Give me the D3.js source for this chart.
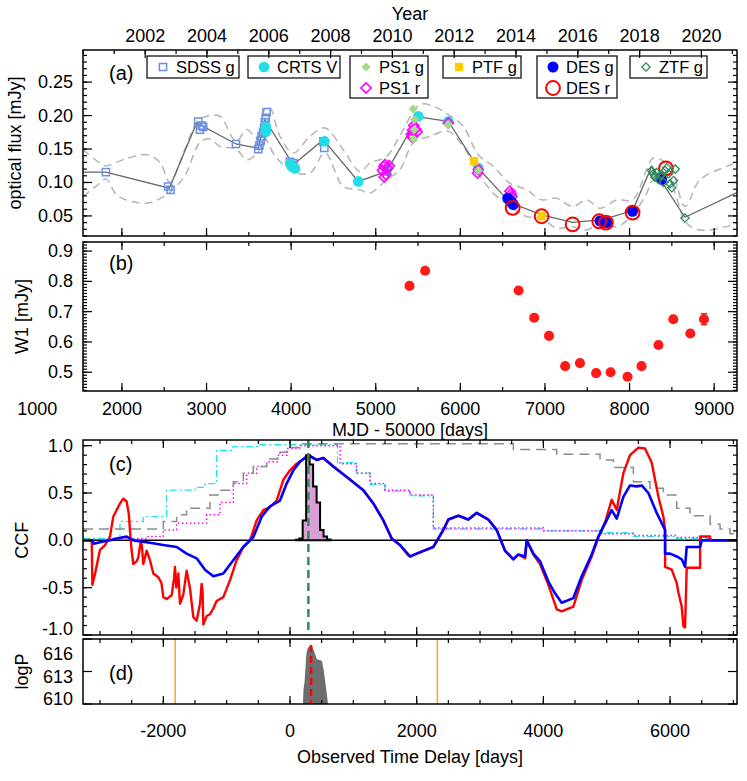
<!DOCTYPE html>
<html><head><meta charset="utf-8">
<script src="https://cdn.jsdelivr.net/npm/d3@7"></script>
<style>
body{margin:0;background:#fff}
text{font-family:"Liberation Sans",Arial,Helvetica,sans-serif;fill:#000}
</style>
</head><body>
<svg id="chart" width="747" height="781"></svg>
<script>
// ---------------- DATA ----------------
// Panel (a): optical light curve, [MJD-50000, flux mJy]
const sdssG = [[1811,0.1155],[2547,0.094],[2575,0.089],[2902,0.191],[2922,0.179],[2942,0.185],[2961,0.183],[3348,0.1575],
  [3611,0.150],[3625,0.155],[3640,0.1625],[3652,0.169],[3668,0.174],[3680,0.1815],[3690,0.19],[3700,0.1965],[3710,0.205],
  [3986,0.131],[4006,0.1265],[4025,0.129],[4380,0.1615],[4392,0.1515]];
const crtsV = [[3702,0.183],[3700,0.176],[3990,0.128],[4010,0.124],[4045,0.121],[4392,0.1615],[4794,0.1015],[5129,0.1175],
  [5503,0.199],[5858,0.191],[6212,0.1215],[6600,0.078]];
const ps1G = [[5443,0.21],[5460,0.194],[5455,0.179],[5448,0.165],[5858,0.1865],[6212,0.118]];
const ps1R = [[5080,0.118],[5095,0.124],[5110,0.127],[5120,0.112],[5100,0.108],[5140,0.121],[5160,0.125],
  [5420,0.172],[5435,0.178],[5450,0.185],[5470,0.180],[5490,0.176],[5430,0.168],[5858,0.189],[6212,0.119],[6205,0.114],
  [6586,0.087],[6600,0.083],[6610,0.079]];
const ptfG = [[6161,0.132],[6961,0.0495]];
const desG = [[6560,0.0765],[6590,0.072],[6615,0.069],[6625,0.067],[7650,0.0425],[7700,0.041],[7730,0.04],[8036,0.057],[8379,0.1045]];
const desR = [[6618,0.062],[6961,0.0495],[7327,0.0375],[7642,0.042],[7721,0.04],[8036,0.055],[8430,0.121]];
const ztfG = [[8260,0.118],[8280,0.113],[8300,0.108],[8320,0.115],[8340,0.105],[8360,0.11],[8380,0.112],[8400,0.1],
  [8420,0.118],[8440,0.122],[8460,0.113],[8480,0.098],[8500,0.092],[8520,0.103],[8540,0.12],[8655,0.047]];
const binnedLC = [[1540,0.1155],[1811,0.1155],[2560,0.0915],[2883,0.189],[3348,0.1575],[3611,0.151],[3690,0.194],[4025,0.1265],
  [4380,0.164],[4794,0.1015],[5129,0.1165],[5503,0.198],[5858,0.1915],[6212,0.1215],[6586,0.07],[6961,0.0515],[7327,0.0405],
  [7685,0.0445],[8037,0.058],[8261,0.124],[8655,0.048],[9270,0.085]];
const envUpper = [[1540,0.149],[1740,0.129],[1811,0.125],[2035,0.135],[2292,0.1415],[2449,0.13],[2567,0.10],[2745,0.15],[2887,0.19],
  [3001,0.199],[3158,0.199],[3348,0.1615],[3474,0.179],[3608,0.165],[3690,0.21],[3749,0.2115],[3868,0.169],[4025,0.144],[4222,0.169],
  [4400,0.1815],[4616,0.149],[4813,0.1165],[4931,0.129],[5129,0.139],[5286,0.17],[5522,0.2165],[5680,0.214],[5857,0.2015],[6034,0.184],
  [6212,0.1415],[6389,0.124],[6586,0.099],[6784,0.089],[6961,0.074],[7138,0.0765],[7327,0.064],[7493,0.074],[7650,0.0615],[7847,0.074],
  [8037,0.074],[8202,0.119],[8280,0.1365],[8478,0.124],[8655,0.064],[8832,0.104],[9148,0.124],[9270,0.13]];
const envLower = [[1540,0.079],[1700,0.095],[1811,0.105],[1950,0.08],[2292,0.069],[2508,0.08],[2567,0.085],[2745,0.11],[2922,0.16],
  [3040,0.165],[3158,0.154],[3348,0.15],[3474,0.134],[3608,0.145],[3690,0.165],[3808,0.14],[4025,0.116],[4222,0.114],[4400,0.144],
  [4616,0.094],[4813,0.089],[4931,0.084],[5129,0.104],[5286,0.119],[5443,0.159],[5641,0.169],[5857,0.1765],[6034,0.154],[6212,0.114],
  [6389,0.084],[6586,0.064],[6784,0.049],[6961,0.0465],[7138,0.0315],[7327,0.034],[7493,0.029],[7650,0.039],[7847,0.034],[8037,0.0515],
  [8202,0.084],[8280,0.104],[8478,0.099],[8576,0.069],[8655,0.0415],[8832,0.029],[9148,0.034],[9270,0.04]];

// Panel (b): WISE W1, [MJD-50000, flux, error]
const w1 = [[5399,0.785,0.008],[5584,0.835,0.008],[6688,0.77,0.008],[6873,0.68,0.008],[7048,0.62,0.008],[7239,0.52,0.008],
  [7414,0.53,0.008],[7605,0.497,0.008],[7776,0.50,0.008],[7976,0.485,0.008],[8142,0.52,0.008],[8342,0.59,0.008],
  [8517,0.675,0.01],[8718,0.628,0.01],[8880,0.675,0.018]];

// Panel (c): CCF, [lag days, r]
const ccfRed = [[-3268,0],[-3130,0],[-3120,-0.47],[-3080,-0.36],[-3000,-0.10],[-2920,-0.05],[-2842,0.04],[-2790,0.25],[-2737,0.32],
  [-2684,0.39],[-2632,0.44],[-2579,0.41],[-2545,0.28],[-2526,0.10],[-2500,-0.11],[-2474,-0.25],[-2420,-0.22],[-2395,-0.18],[-2358,-0.02],
  [-2340,-0.05],[-2316,-0.25],[-2263,-0.11],[-2211,-0.21],[-2158,-0.35],[-2079,-0.39],[-2030,-0.45],[-2000,-0.60],[-1947,-0.62],
  [-1868,-0.58],[-1830,-0.40],[-1816,-0.28],[-1795,-0.50],[-1763,-0.35],[-1737,-0.67],[-1684,-0.57],[-1632,-0.32],[-1580,-0.50],
  [-1526,-0.81],[-1474,-0.85],[-1421,-0.67],[-1395,-0.46],[-1380,-0.55],[-1368,-0.89],[-1316,-0.80],[-1263,-0.78],[-1211,-0.72],
  [-1158,-0.64],[-1053,-0.60],[-947,-0.42],[-842,-0.21],[-737,-0.07],[-632,0.0],[-526,0.21],[-421,0.32],[-316,0.35],[-211,0.42],
  [-105,0.64],[0,0.74],[105,0.81],[211,0.86],[290,0.90],[421,0.85],[526,0.87],[684,0.78],[895,0.67],[1158,0.53],[1316,0.39],
  [1474,0.21],[1605,0.02],[1737,-0.05],[1868,-0.16],[1895,-0.17],[2000,-0.14],[2263,-0.07],[2421,0.11],[2500,0.22],[2658,0.26],
  [2816,0.22],[2947,0.29],[3131,0.22],[3263,0.11],[3395,-0.11],[3526,-0.20],[3605,-0.15],[3711,-0.19],[3737,0.0],[3842,-0.15],
  [3947,-0.25],[4079,-0.47],[4211,-0.73],[4289,-0.75],[4474,-0.70],[4605,-0.42],[4763,-0.17],[4868,0.03],[4974,0.19],[5079,0.43],
  [5158,0.32],[5263,0.71],[5368,0.90],[5500,0.98],[5605,0.97],[5711,0.82],[5816,0.46],[5895,0.25],[5921,0.11],[5922,-0.28],
  [6026,-0.31],[6105,-0.45],[6132,-0.55],[6184,-0.70],[6211,-0.91],[6237,-0.92],[6263,-0.29],[6474,-0.29],[6475,0.04],[6632,0.04],
  [6640,0.0],[7057,0.0]];
const ccfBlue = [[-3268,0],[-3120,0],[-3100,-0.035],[-3000,-0.02],[-2842,0.0],[-2737,0.02],[-2579,0.04],[-2526,0.02],[-2474,0.0],
  [-2263,-0.02],[-2000,-0.05],[-1789,-0.07],[-1632,-0.14],[-1474,-0.19],[-1342,-0.31],[-1211,-0.38],[-1053,-0.35],[-895,-0.21],
  [-737,-0.07],[-579,0.035],[-447,0.25],[-316,0.36],[-158,0.42],[-53,0.60],[53,0.74],[158,0.83],[290,0.90],[421,0.85],[526,0.87],
  [684,0.78],[895,0.67],[1158,0.53],[1316,0.39],[1474,0.21],[1605,0.02],[1737,-0.05],[1895,-0.17],[2000,-0.14],[2263,-0.07],
  [2421,0.11],[2500,0.22],[2658,0.26],[2816,0.22],[2947,0.29],[3131,0.22],[3263,0.11],[3395,-0.11],[3526,-0.20],[3605,-0.15],
  [3711,-0.17],[3737,0.0],[3842,-0.14],[3947,-0.22],[4079,-0.435],[4184,-0.56],[4289,-0.66],[4474,-0.61],[4605,-0.38],[4763,-0.15],
  [4868,0.04],[4974,0.18],[5079,0.32],[5158,0.23],[5263,0.46],[5368,0.58],[5474,0.57],[5553,0.58],[5658,0.50],[5789,0.29],
  [5921,0.11],[5922,-0.14],[6000,-0.14],[6105,-0.17],[6184,-0.20],[6237,-0.28],[6263,-0.07],[6474,-0.07],[6500,0.0],[7057,0.0]];
const overlapGray = [[-3268,0.12],[-2000,0.20],[-1789,0.27],[-1632,0.34],[-1263,0.48],[-1105,0.53],[-895,0.62],[-737,0.71],[-579,0.78],
  [-368,0.86],[-158,0.93],[0,0.98],[158,1.02],[3526,0.96],[4211,0.91],[4895,0.85],[5105,0.77],[5421,0.62],[5684,0.55],[5895,0.48],
  [6105,0.34],[6316,0.26],[6632,0.17],[6790,0.12],[6947,0.07],[7057,0.07]];
const overlapCyan = [[-3268,0.02],[-2684,0.20],[-2316,0.25],[-1947,0.53],[-1500,0.56],[-1342,0.60],[-1158,0.95],[-900,0.99],[-500,1.01],
  [750,0.82],[1050,0.71],[1263,0.59],[1500,0.52],[1895,0.47],[2263,0.12],[4000,0.10],[4895,0.08],[5421,0.04],[6100,0.02],[6600,0.0],[7057,0.0]];
const overlapMagenta = [[-3268,0.0],[-2684,0.02],[-2263,0.04],[-2000,0.11],[-1789,0.18],[-1316,0.27],[-1105,0.40],[-895,0.60],[-684,0.71],
  [-526,0.78],[-368,0.83],[-200,0.90],[-50,0.97],[150,1.0],[790,0.81],[1050,0.71],[1263,0.60],[1500,0.53],[1895,0.48],[2263,0.13],
  [4000,0.10],[4895,0.07],[5421,0.05],[6100,0.03],[6600,0.0],[7057,0.0]];
const histEdges = [90,145,200,255,310,365,420,475,530,585,640];
const histHeights = [0.005,0.02,0.21,0.90,0.80,0.57,0.40,0.11,0.04,0.01];
const ccfPeakLag = 290;

// Panel (d): JAVELIN posterior envelope, [lag, logP]
const posterior = [[205,610],[211,611],[232,612.2],[266,614.9],[300,615.3],[333,615.45],[379,614.9],[433,614.1],[499,614.0],
  [530,613.2],[553,612.2],[580,611],[600,610]];
const javelinLag = 333;
const lagLimits = [-1812, 2327];

// Axis ticks / labels
const yearLabels = [2002,2004,2006,2008,2010,2012,2014,2016,2018,2020];
const mjdLabels = [1000,2000,3000,4000,5000,6000,7000,8000,9000];
const fluxLabels = [0.05,0.10,0.15,0.20,0.25];
const w1Labels = [0.5,0.6,0.7,0.8,0.9];
const ccfLabels = [-1.0,-0.5,0.0,0.5,1.0];
const logPLabels = [610,613,616];
const lagLabels = [-2000,0,2000,4000,6000];

// ---------------- LAYOUT ----------------
const L = 83, R = 737;
const A = {top:50, bottom:236}, B = {top:242, bottom:391}, C = {top:440, bottom:635}, D = {top:639, bottom:704};
const svg = d3.select('#chart');
const xM = d3.scaleLinear().domain([1540, 9270]).range([L, R]);
const xL = d3.scaleLinear().domain([-3268, 7057]).range([L, R]);
const yA = d3.scaleLinear().domain([0.02, 0.298]).range([A.bottom, A.top]);
const yB = d3.scaleLinear().domain([0.438, 0.930]).range([B.bottom, B.top]);
const yC = d3.scaleLinear().domain([-1.0, 1.06]).range([C.bottom, C.top]);
const yD = d3.scaleLinear().domain([610, 616]).range([D.bottom, D.top]);
const yearToMjd = y => 51544.5 + (y - 2000) * 365.25 - 50000;

const defs = svg.append('defs');
[['clipA',A],['clipB',B],['clipC',C],['clipD',D]].forEach(([id,p])=>{
  defs.append('clipPath').attr('id',id).append('rect').attr('x',L).attr('y',p.top).attr('width',R-L).attr('height',p.bottom-p.top);
});

const FS = 18;
function tickLine(g,x1,y1,x2,y2){ g.append('line').attr('x1',x1).attr('y1',y1).attr('x2',x2).attr('y2',y2).attr('stroke','#000').attr('stroke-width',1.2); }
function xTicks(g, sc, vals, p, len, top=true, bottom=true){
  vals.forEach(v=>{ const x=sc(v); if(x<L-0.5||x>R+0.5) return;
    if(bottom) tickLine(g,x,p.bottom,x,p.bottom-len);
    if(top) tickLine(g,x,p.top,x,p.top+len); });
}
function yTicks(g, sc, vals, len){
  vals.forEach(v=>{ const y=sc(v); const r=sc.range(); if(y>r[0]+0.5||y<r[1]-0.5) return;
    tickLine(g,L,y,L+len,y); tickLine(g,R,y,R-len,y); });
}
function frame(p){ svg.append('rect').attr('x',L).attr('y',p.top).attr('width',R-L).attr('height',p.bottom-p.top)
  .attr('fill','none').attr('stroke','#000').attr('stroke-width',1.5); }
const rng = (a,b,s)=>d3.range(Math.round(a/s), Math.round(b/s)+1).map(i=>+(i*s).toFixed(6));

// ---------------- PANEL A ----------------
const gA = svg.append('g');
const cA = gA.append('g').attr('clip-path','url(#clipA)');
const envLine = d3.line().x(d=>xM(d[0])).y(d=>yA(d[1])).curve(d3.curveCatmullRom.alpha(0.5));
[envUpper, envLower].forEach(arr=>{
  cA.append('path').attr('d',envLine(arr)).attr('fill','none').attr('stroke','#b4b4b4').attr('stroke-width',1.5).attr('stroke-dasharray','8,5');
});
cA.append('path').attr('d',d3.line().x(d=>xM(d[0])).y(d=>yA(d[1]))(binnedLC)).attr('fill','none').attr('stroke','#666').attr('stroke-width',1.3);

function sym(type,size){ return d3.symbol().type(type).size(size)(); }
function markers(g,data,sc_x,sc_y,o){
  g.selectAll(null).data(data).enter().append('path')
   .attr('d',sym(o.type,o.size))
   .attr('transform',d=>`translate(${sc_x(d[0])},${sc_y(d[1])})${o.rot?' rotate(45)':''}`)
   .attr('fill',o.fill||'none').attr('stroke',o.stroke||'none').attr('stroke-width',o.sw||0);
}
const stSDSS={type:d3.symbolSquare,size:52,stroke:'#6a8fe6',sw:1.5};
const stCRTS={type:d3.symbolCircle,size:90,fill:'#22dde6'};
const stPS1g={type:d3.symbolSquare,size:42,fill:'#a2d98a',rot:true};
const stPS1r={type:d3.symbolSquare,size:52,stroke:'#ff00ff',sw:1.6,rot:true};
const stPTF={type:d3.symbolSquare,size:70,fill:'#ffcc00'};
const stDESg={type:d3.symbolCircle,size:95,fill:'#0000ff'};
const stDESr={type:d3.symbolCircle,size:150,stroke:'#ff0000',sw:2};
const stZTF={type:d3.symbolSquare,size:34,stroke:'#2e8b57',sw:1.3,rot:true};
markers(cA,sdssG,xM,yA,stSDSS);
markers(cA,crtsV,xM,yA,stCRTS);
markers(cA,ps1R,xM,yA,stPS1r);
markers(cA,ps1G,xM,yA,stPS1g);
markers(cA,ptfG,xM,yA,stPTF);
markers(cA,desG,xM,yA,stDESg);
markers(cA,desR,xM,yA,stDESr);
markers(cA,ztfG,xM,yA,stZTF);

// legend
const legendItems = [
  {x:147,w:92,rows:[['SDSS g',stSDSS]]},
  {x:248,w:92,rows:[['CRTS V',stCRTS]]},
  {x:350,w:78,rows:[['PS1 g',stPS1g],['PS1 r',stPS1r]]},
  {x:443,w:78,rows:[['PTF g',stPTF]]},
  {x:537,w:80,rows:[['DES g',stDESg],['DES r',stDESr]]},
  {x:630,w:77,rows:[['ZTF g',stZTF]]}
];
legendItems.forEach(it=>{
  const h = it.rows.length===1 ? 22 : 42;
  gA.append('rect').attr('x',it.x).attr('y',56).attr('width',it.w).attr('height',h).attr('fill','#fff').attr('stroke','#000').attr('stroke-width',1.2);
  it.rows.forEach((r,i)=>{
    const cy = 67 + i*21;
    const st=r[1];
    gA.append('path').attr('d',sym(st.type,st.size)).attr('transform',`translate(${it.x+16},${cy})${st.rot?' rotate(45)':''}`)
      .attr('fill',st.fill||'none').attr('stroke',st.stroke||'none').attr('stroke-width',st.sw||0);
    gA.append('text').attr('x',it.x+29).attr('y',cy+6).attr('font-size',16.5).text(r[0]);
  });
});
gA.append('text').attr('x',109).attr('y',80).attr('font-size',20).text('(a)');

frame(A);
xTicks(gA,xM,rng(1500,9500,500),{top:A.bottom,bottom:A.bottom},4,false,true);
xTicks(gA,xM,rng(2000,9000,1000),{top:A.bottom,bottom:A.bottom},8,false,true);
xTicks(gA,xM,d3.range(2000,2022,1).map(yearToMjd),{top:A.top,bottom:A.top},4,true,false);
xTicks(gA,xM,yearLabels.map(yearToMjd),{top:A.top,bottom:A.top},8,true,false);
yTicks(gA,yA,rng(0.02,0.29,0.01),4);
yTicks(gA,yA,fluxLabels,9);
yearLabels.forEach(y=>svg.append('text').attr('x',xM(yearToMjd(y))).attr('y',42).attr('text-anchor','middle').attr('font-size',FS).text(y));
svg.append('text').attr('x',410).attr('y',20).attr('text-anchor','middle').attr('font-size',FS).text('Year');
fluxLabels.forEach(v=>svg.append('text').attr('x',73).attr('y',yA(v)+6).attr('text-anchor','end').attr('font-size',FS).text(v.toFixed(2)));
svg.append('text').attr('transform',`translate(21,${(A.top+A.bottom)/2}) rotate(-90)`).attr('text-anchor','middle').attr('font-size',FS).text('optical flux [mJy]');

// ---------------- PANEL B ----------------
const gB = svg.append('g');
const cB = gB.append('g').attr('clip-path','url(#clipB)');
w1.forEach(d=>{
  cB.append('line').attr('x1',xM(d[0])).attr('x2',xM(d[0])).attr('y1',yB(d[1]-d[2])).attr('y2',yB(d[1]+d[2])).attr('stroke','#ff1a1a').attr('stroke-width',2);
  cB.append('line').attr('x1',xM(d[0])-3).attr('x2',xM(d[0])+3).attr('y1',yB(d[1]-d[2])).attr('y2',yB(d[1]-d[2])).attr('stroke','#ff1a1a').attr('stroke-width',1.5);
  cB.append('line').attr('x1',xM(d[0])-3).attr('x2',xM(d[0])+3).attr('y1',yB(d[1]+d[2])).attr('y2',yB(d[1]+d[2])).attr('stroke','#ff1a1a').attr('stroke-width',1.5);
});
markers(cB,w1,xM,yB,{type:d3.symbolCircle,size:80,fill:'#ff1a1a'});
gB.append('text').attr('x',109).attr('y',270).attr('font-size',20).text('(b)');
frame(B);
xTicks(gB,xM,rng(1500,9500,500),B,4);
xTicks(gB,xM,rng(2000,9000,1000),B,8);
yTicks(gB,yB,rng(0.44,0.93,0.01),4);
yTicks(gB,yB,w1Labels,9);
mjdLabels.forEach(v=>svg.append('text').attr('x',xM(v)).attr('y',415).attr('text-anchor','middle').attr('font-size',FS).text(v));
svg.append('text').attr('x',410).attr('y',436).attr('text-anchor','middle').attr('font-size',FS).text('MJD - 50000 [days]');
w1Labels.forEach(v=>svg.append('text').attr('x',73).attr('y',yB(v)+6).attr('text-anchor','end').attr('font-size',FS).text(v.toFixed(1)));
svg.append('text').attr('transform',`translate(28,${(B.top+B.bottom)/2}) rotate(-90)`).attr('text-anchor','middle').attr('font-size',FS).text('W1 [mJy]');

// ---------------- PANEL C ----------------
const gC = svg.append('g');
const cC = gC.append('g').attr('clip-path','url(#clipC)');
const stepLine = d3.line().x(d=>xL(d[0])).y(d=>yC(d[1])).curve(d3.curveStepAfter);
cC.append('path').attr('d',stepLine(overlapCyan)).attr('fill','none').attr('stroke','#1ee6ee').attr('stroke-width',1.3).attr('stroke-dasharray','7,3,2,3');
cC.append('path').attr('d',stepLine(overlapMagenta)).attr('fill','none').attr('stroke','#ff00ff').attr('stroke-width',1.5).attr('stroke-dasharray','1.5,2.5');
cC.append('path').attr('d',stepLine(overlapGray)).attr('fill','none').attr('stroke','#8c8c8c').attr('stroke-width',1.5).attr('stroke-dasharray','10,6');
cC.append('line').attr('x1',L).attr('x2',R).attr('y1',yC(0)).attr('y2',yC(0)).attr('stroke','#000').attr('stroke-width',1.5);
const lagLine = d3.line().x(d=>xL(d[0])).y(d=>yC(d[1]));
cC.append('path').attr('d',lagLine(ccfRed)).attr('fill','none').attr('stroke','#ff0000').attr('stroke-width',2.4).attr('stroke-linejoin','round');
cC.append('path').attr('d',lagLine(ccfBlue)).attr('fill','none').attr('stroke','#0000ff').attr('stroke-width',2.6).attr('stroke-linejoin','round');
// histogram
const histPts = [[histEdges[0],0]];
histHeights.forEach((h,i)=>{ histPts.push([histEdges[i],h]); histPts.push([histEdges[i+1],h]); });
histPts.push([histEdges[histEdges.length-1],0]);
const histPath = d3.line().x(d=>xL(d[0])).y(d=>yC(d[1]));
cC.append('path').attr('d',histPath(histPts)+'Z').attr('fill','#d9a0d6').attr('stroke','#000').attr('stroke-width',2).attr('stroke-linejoin','miter');
cC.append('line').attr('x1',xL(ccfPeakLag)).attr('x2',xL(ccfPeakLag)).attr('y1',C.top).attr('y2',C.bottom)
  .attr('stroke','#2e8b57').attr('stroke-width',2.5).attr('stroke-dasharray','8,5');
gC.append('text').attr('x',109).attr('y',471).attr('font-size',20).text('(c)');
frame(C);
xTicks(gC,xL,rng(-3000,7000,500),C,4);
xTicks(gC,xL,rng(-2000,6000,2000),C,8);
yTicks(gC,yC,rng(-1.0,1.0,0.1),4);
yTicks(gC,yC,ccfLabels,9);
ccfLabels.forEach(v=>svg.append('text').attr('x',73).attr('y',Math.min(yC(v)+6,C.bottom)).attr('text-anchor','end').attr('font-size',FS).text(v.toFixed(1)));
svg.append('text').attr('transform',`translate(28,${yC(0)}) rotate(-90)`).attr('text-anchor','middle').attr('font-size',FS).text('CCF');

// ---------------- PANEL D ----------------
const gD = svg.append('g');
const cD = gD.append('g').attr('clip-path','url(#clipD)');
lagLimits.forEach(v=>cD.append('line').attr('x1',xL(v)).attr('x2',xL(v)).attr('y1',D.top).attr('y2',D.bottom).attr('stroke','#f7a830').attr('stroke-width',1.6));
cD.append('path').attr('d',d3.area().x(d=>xL(d[0])).y0(yD(610)).y1(d=>yD(d[1])).curve(d3.curveMonotoneX)(posterior)).attr('fill','#6e6e6e');
cD.append('line').attr('x1',xL(javelinLag)).attr('x2',xL(javelinLag)).attr('y1',yD(d3.max(posterior,d=>d[1]))).attr('y2',D.bottom)
  .attr('stroke','#ff0000').attr('stroke-width',2.4).attr('stroke-dasharray','7,4');
gD.append('text').attr('x',109).attr('y',680).attr('font-size',20).text('(d)');
frame(D);
xTicks(gD,xL,rng(-3000,7000,500),D,4);
xTicks(gD,xL,rng(-2000,6000,2000),D,8);
yTicks(gD,yD,logPLabels,9);
logPLabels.forEach(v=>svg.append('text').attr('x',73).attr('y',Math.max(Math.min(yD(v)+11,D.bottom+1),D.top+21)).attr('text-anchor','end').attr('font-size',FS).text(v));
svg.append('text').attr('transform',`translate(28,${(D.top+D.bottom)/2}) rotate(-90)`).attr('text-anchor','middle').attr('font-size',FS).text('logP');
lagLabels.forEach(v=>svg.append('text').attr('x',xL(v)).attr('y',737).attr('text-anchor','middle').attr('font-size',FS).text(v));
svg.append('text').attr('x',410).attr('y',763).attr('text-anchor','middle').attr('font-size',FS).text('Observed Time Delay [days]');
</script>
</body></html>
